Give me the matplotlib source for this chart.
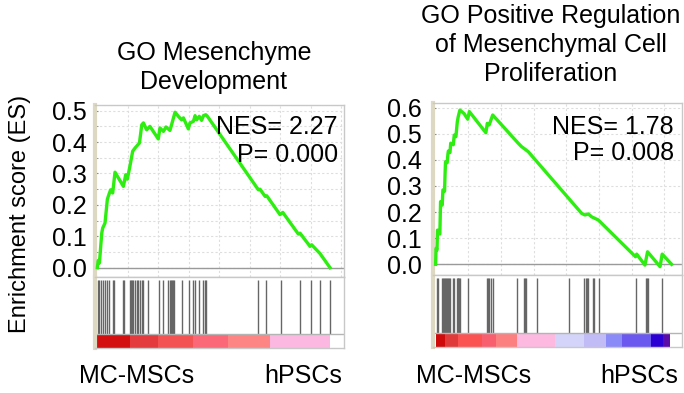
import matplotlib.pyplot as plt
import numpy as np

plt.rcParams['font.family'] = ['Liberation Sans', 'DejaVu Sans']

# ---- left panel: GO Mesenchyme Development ----
left_title = "GO Mesenchyme\nDevelopment"
left_nes = "NES= 2.27"
left_p = "P= 0.000"
left_rank = [0, 4, 9, 19, 23, 33, 43, 47, 57, 66,
             76, 112, 122, 129, 140, 152, 162, 181, 191, 198,
             212, 226, 262, 269, 284, 295, 312, 319, 334, 348,
             362, 370, 391, 398, 413, 420, 427, 438, 448, 456,
             466, 473, 692, 699, 721, 728, 785, 797, 864, 871,
             914, 921, 957, 1000]
left_es = [0.0, 0.023, 0.015, 0.110, 0.126, 0.142, 0.217, 0.227, 0.248, 0.238,
           0.304, 0.259, 0.296, 0.282, 0.323, 0.371, 0.381, 0.397, 0.455, 0.461,
           0.439, 0.450, 0.410, 0.445, 0.434, 0.448, 0.437, 0.455, 0.495, 0.482,
           0.471, 0.477, 0.442, 0.461, 0.466, 0.484, 0.471, 0.482, 0.469, 0.484,
           0.487, 0.482, 0.248, 0.250, 0.227, 0.229, 0.169, 0.176, 0.107, 0.110,
           0.068, 0.073, 0.045, 0.0]
left_hits = [4, 9, 14, 26, 33, 40, 52, 69, 72, 112, 115, 140, 145, 150, 155,
             162, 169, 176, 183, 191, 195, 219, 265, 281, 302, 312, 317, 322,
             327, 331, 365, 395, 413, 420, 438, 456, 463, 467, 692, 725, 788,
             871, 917, 957, 1000]
left_bounds = [0, 140, 262, 413, 563, 742, 1000]
left_colors = ['#d40f0f', '#e43b3f', '#f45353', '#fb6878', '#fd8584', '#fcb8e0']
left_yticks = [0.0, 0.1, 0.2, 0.3, 0.4, 0.5]

# ---- right panel: GO Positive Regulation of Mesenchymal Cell Proliferation ----
right_title = "GO Positive Regulation\nof Mesenchymal Cell\nProliferation"
right_nes = "NES= 1.78"
right_p = "P= 0.008"
right_rank = [0, 2, 6, 8, 18, 21, 28, 31, 38, 40,
              42, 49, 52, 54, 61, 64, 75, 79, 86, 92,
              96, 103, 121, 136, 143, 213, 219, 227, 242, 350,
              364, 379, 393, 619, 633, 647, 661, 689, 847, 852,
              887, 898, 951, 960, 1000]
right_es = [0.0, 0.061, 0.055, 0.131, 0.116, 0.240, 0.227, 0.285, 0.280, 0.343,
            0.393, 0.389, 0.420, 0.434, 0.428, 0.464, 0.458, 0.495, 0.489, 0.546,
            0.566, 0.591, 0.577, 0.556, 0.585, 0.504, 0.540, 0.534, 0.572, 0.464,
            0.451, 0.441, 0.431, 0.195, 0.189, 0.193, 0.182, 0.170, 0.029, 0.039,
            -0.003, 0.048, -0.009, 0.039, 0.0]
right_hits = [4, 11, 28, 32, 37, 40, 44, 47, 51, 56, 61, 75, 79, 89, 93, 96,
              100, 103, 138, 216, 220, 226, 234, 242, 347, 374, 379, 383, 428,
              566, 630, 636, 640, 644, 668, 672, 692, 847, 890, 894, 898, 958]
right_bounds = [0, 40, 96, 195, 258, 347, 506, 630, 720, 788, 912, 965, 994]
right_colors = ['#cf0a0a', '#e03a3a', '#fb5252', '#f86070', '#fd8080', '#fdb9e0',
                '#d4d4fa', '#c2bcf6', '#8a8af8', '#6b58ee', '#2c00d2', '#5b0ca8']
right_yticks = [0.0, 0.1, 0.2, 0.3, 0.4, 0.5, 0.6]

group_labels = ["MC-MSCs", "hPSCs"]

W, H = 684, 393
FS = 18


def box(x0, y_top, x1, y_bot):
    """pixel box -> figure fraction rect"""
    return [x0 / W, 1 - y_bot / H, (x1 - x0) / W, (y_bot - y_top) / H]


def style_spines(ax):
    for sp in ax.spines.values():
        sp.set_color('#c8c8c8')
        sp.set_linewidth(1)
    ax.spines['left'].set_color('#ddd8c2')
    ax.spines['left'].set_linewidth(3)


def draw_panel(fig, es_rect, low_rect, xlim, ylim, ranks, es, hits, bounds,
               colors, yticks, grid_dx, grid_dy, pad):
    ax = fig.add_axes(es_rect)
    ax.plot(ranks, es, color='#2dee10', lw=2.4, solid_joinstyle='round', zorder=3)
    ax.axhline(0, color='#9a9a9a', lw=1, zorder=2)
    ax.set_xlim(xlim)
    ax.set_ylim(ylim)
    ax.set_yticks(yticks)
    ax.set_yticklabels([f"{t:.1f}" for t in yticks])
    ax.set_yticks(np.arange(0, ylim[1], grid_dy), minor=True)
    ax.set_xticks([])
    ax.set_xticks(np.arange(grid_dx, xlim[1], grid_dx), minor=True)
    ax.grid(True, which='both', color='#dedede', ls=(0, (2, 2)), lw=0.8)
    ax.tick_params(axis='y', which='both', direction='in', length=2,
                   color='#888888', labelsize=FS, pad=pad)
    ax.tick_params(axis='x', which='both', length=0)
    style_spines(ax)

    # hit positions + ranked-list colour bar
    lax = fig.add_axes(low_rect)
    lax.set_xlim(xlim)
    lax.set_ylim(0, 1)
    lax.vlines(hits, 0.2, 0.96, color='#666666', lw=1)
    lax.bar(bounds[:-1], [0.2] * len(colors), width=np.diff(bounds), bottom=0,
            align='edge', color=colors, lw=0)
    lax.axhline(0.2, color='#b4b4b4', lw=1)
    lax.set_xticks([])
    lax.set_yticks([])
    style_spines(lax)
    return ax


fig = plt.figure(figsize=(W / 100, H / 100), dpi=100)

draw_panel(fig, box(95, 105, 344, 277), box(95, 277, 344, 348), (-10, 1060),
           (-0.0296, 0.518), left_rank, left_es, left_hits, left_bounds,
           left_colors, left_yticks, 131, 0.05, 6)
draw_panel(fig, box(433, 103, 682, 275), box(433, 275, 682, 347), (-11, 1044),
           (-0.041, 0.618), right_rank, right_es, right_hits, right_bounds,
           right_colors, right_yticks, 138.5, 0.1, 8)

fig.text(214 / W, 1 - 41 / H, left_title, ha='center', va='top', fontsize=FS,
         linespacing=1.27)
fig.text(551 / W, 1 - 4 / H, right_title, ha='center', va='top', fontsize=FS,
         linespacing=1.27)

fig.text(338 / W, 1 - 127 / H, left_nes, ha='right', va='center', fontsize=FS)
fig.text(338 / W, 1 - 155 / H, left_p, ha='right', va='center', fontsize=FS)
fig.text(674 / W, 1 - 127 / H, right_nes, ha='right', va='center', fontsize=FS)
fig.text(674 / W, 1 - 153 / H, right_p, ha='right', va='center', fontsize=FS)

fig.text(20 / W, 1 - 214 / H, "Enrichment score (ES)", rotation=90,
         ha='center', va='center', fontsize=17)

for cx, lab in zip([137, 303, 474, 639], group_labels * 2):
    fig.text(cx / W, 1 - 376 / H, lab, ha='center', va='center', fontsize=FS)

fig.savefig("out.png", dpi=100, facecolor='white')
